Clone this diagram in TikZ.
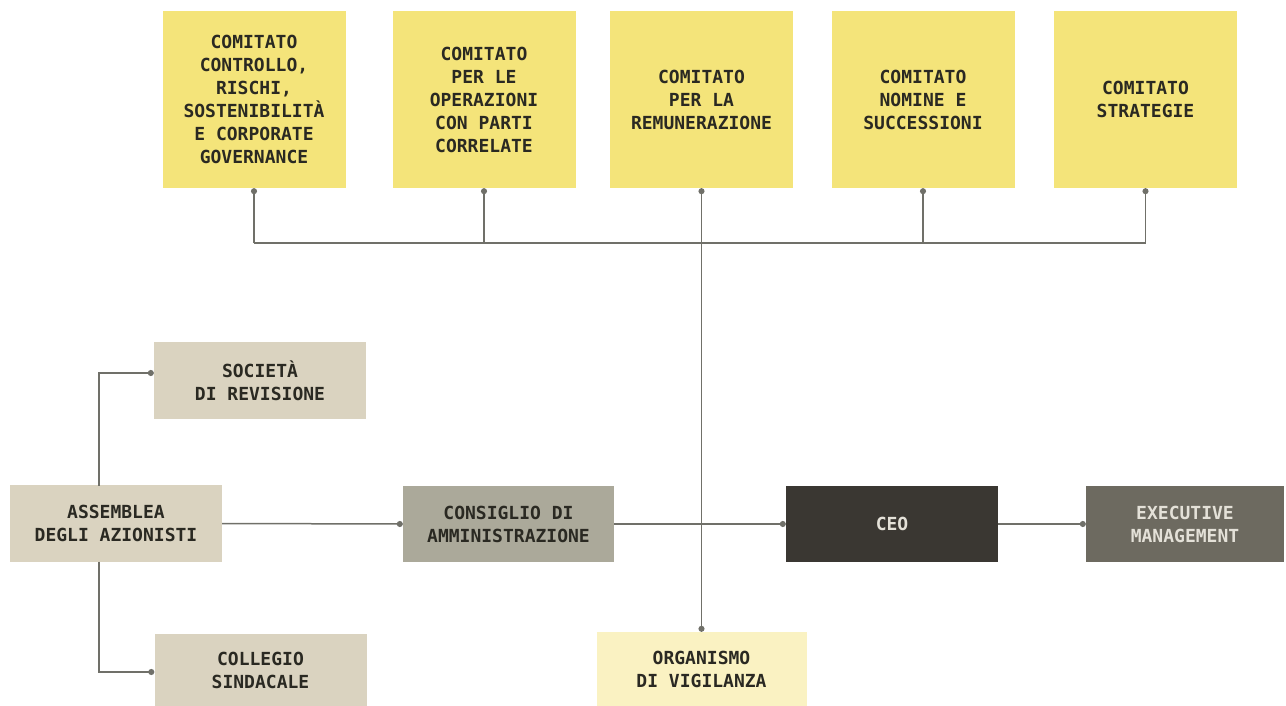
\documentclass[tikz,border=0pt]{standalone}
\usepackage{fontspec}
\setmonofont{DejaVu Sans Mono}
\usetikzlibrary{arrows.meta}
\definecolor{yel}{HTML}{F4E47A}
\definecolor{beige}{HTML}{DAD3C0}
\definecolor{cdagray}{HTML}{ABA99A}
\definecolor{ceodark}{HTML}{3A3732}
\definecolor{execgray}{HTML}{6D6A60}
\definecolor{paleyel}{HTML}{FAF2C2}
\definecolor{txtdark}{HTML}{2A2922}
\definecolor{txtlight}{HTML}{E4E1D8}
\definecolor{linegray}{HTML}{707069}
\begin{document}
\begin{tikzpicture}[x=1pt,y=-1pt,
  box/.style={rectangle, inner sep=0pt, align=center, text=txtdark,
    font=\ttfamily\bfseries\fontsize{18}{23}\selectfont},
  comm/.style={box, fill=yel, minimum width=183pt, minimum height=177pt},
  side/.style={box, fill=beige, minimum width=212pt, minimum height=77pt},
  conn/.style={draw=linegray, line width=1.5pt},
  todot/.style={conn, -{Circle[length=6pt,width=6pt]}},
  bothdot/.style={conn, {Circle[length=6pt,width=6pt]}-{Circle[length=6pt,width=6pt]}}]
\useasboundingbox (0,0) rectangle (1286,706);
\fill[white] (0,0) rectangle (1286,706);

% committees
\node[comm] (c1) at (254,99.5) {COMITATO\\CONTROLLO,\\RISCHI,\\SOSTENIBILITÀ\\E CORPORATE\\GOVERNANCE};
\node[comm] (c2) at (484,99.5) {COMITATO\\PER LE\\OPERAZIONI\\CON PARTI\\CORRELATE};
\node[comm] (c3) at (701.5,99.5) {COMITATO\\PER LA\\REMUNERAZIONE};
\node[comm] (c4) at (923,99.5) {COMITATO\\NOMINE E\\SUCCESSIONI};
\node[comm] (c5) at (1145.5,99.5) {COMITATO\\STRATEGIE};

% left column
\node[side] (soc) at (260,380.5) {SOCIETÀ\\DI REVISIONE};
\node[side] (ass) at (116,523.5) {ASSEMBLEA\\DEGLI AZIONISTI};
\node[side, minimum height=72pt] (col) at (260.5,670) {COLLEGIO\\SINDACALE};

% main row
\node[box, fill=cdagray, minimum width=211pt, minimum height=76pt] (cda) at (508.5,524) {CONSIGLIO DI\\AMMINISTRAZIONE};
\node[box, fill=ceodark, text=txtlight, minimum width=212pt, minimum height=76pt] (ceo) at (892,524) {CEO};
\node[box, fill=execgray, text=txtlight, minimum width=198pt, minimum height=76pt] (exe) at (1185,524) {EXECUTIVE\\MANAGEMENT};
\node[box, fill=paleyel, minimum width=210pt, minimum height=74pt] (org) at (701.5,669) {ORGANISMO\\DI VIGILANZA};

% committee bus
\coordinate (bus) at (0,243);
\draw[conn] (c1.south |- bus) -- (c5.south |- bus);
\draw[todot] (c1.south |- bus) -- (c1.south);
\draw[todot] (c2.south |- bus) -- (c2.south);
\draw[todot] (c4.south |- bus) -- (c4.south);
\draw[todot] (c5.south |- bus) -- (c5.south);
\draw[bothdot] (c3.south) -- (org.north);

% assemblea links
\coordinate (aup) at (99,485.5);
\coordinate (adn) at (99,561.5);
\draw[todot] (aup) |- ([yshift=7.5pt]soc.west);
\draw[todot] (adn) |- ([yshift=-2pt]col.west);
\draw[todot] (ass.east) -- (cda.west);
\draw[todot] (cda.east) -- (ceo.west);
\draw[todot] (ceo.east) -- (exe.west);
\end{tikzpicture}
\end{document}
